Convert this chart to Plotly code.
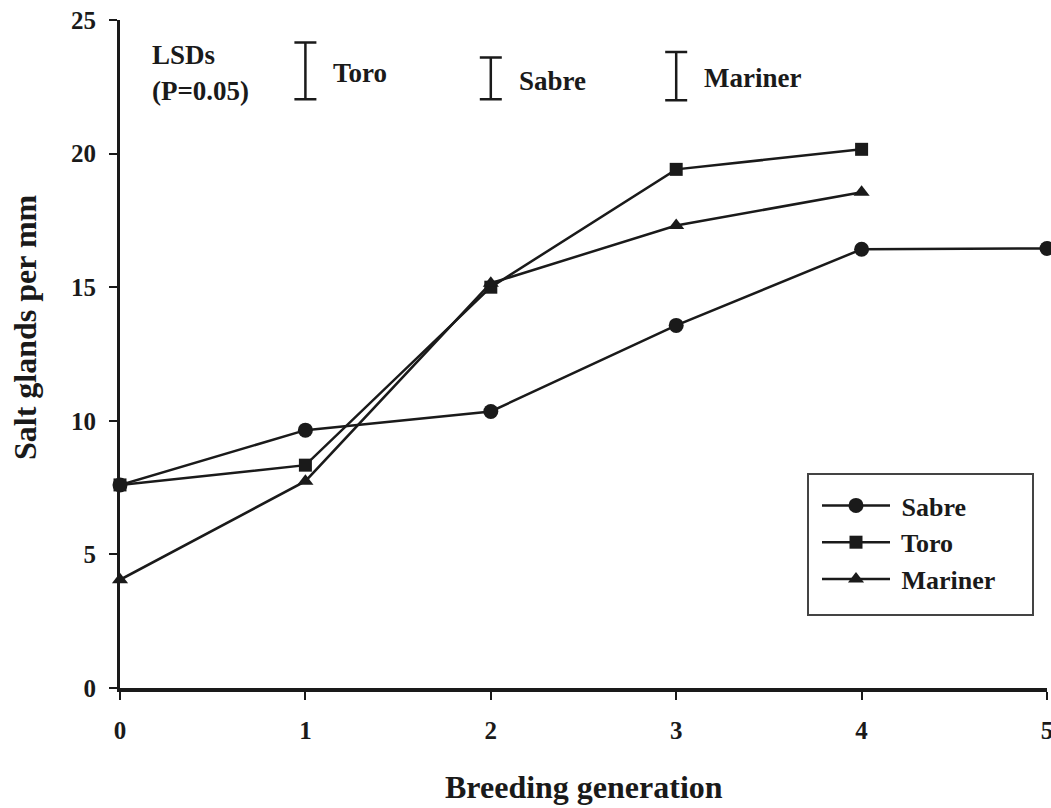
import plotly.graph_objects as go

generation = [0, 1, 2, 3, 4, 5]
sabre = [7.6, 9.65, 10.35, 13.57, 16.42, 16.45]
toro = [7.6, 8.34, 15.0, 19.41, 20.16]
mariner = [4.05, 7.74, 15.15, 17.31, 18.55]

lsd_names = ["Toro", "Sabre", "Mariner"]
lsd_x = [1, 2, 3]
lsd_base = [22.03, 22.03, 22.0]
lsd_values = [2.13, 1.57, 1.8]

y_ticks = [0, 5, 10, 15, 20, 25]
x_ticks = [0, 1, 2, 3, 4, 5]

FONT = "Liberation Serif"
INK = "#1a1a1a"

fig = go.Figure()

series = [("Sabre", sabre, "circle", 15), ("Toro", toro, "square", 13),
          ("Mariner", mariner, "triangle-up", 14)]
for name, vals, sym, size in series:
    fig.add_trace(go.Scatter(
        x=generation[:len(vals)], y=vals, name=" " + name, mode="lines+markers",
        line=dict(color=INK, width=2.5),
        marker=dict(symbol=sym, size=size, color=INK),
        cliponaxis=False,
    ))

# LSD bars
fig.add_trace(go.Scatter(
    x=lsd_x, y=lsd_base, mode="markers", showlegend=False,
    marker=dict(size=1, color="rgba(0,0,0,0)"),
    error_y=dict(type="data", symmetric=False, array=lsd_values,
                 arrayminus=[0] * len(lsd_values), color=INK,
                 thickness=2.5, width=11),
    hoverinfo="skip", cliponaxis=False,
))

ann_font = dict(family=FONT, size=27, color=INK, weight="bold")
fig.add_annotation(x=0.16, y=23.69, text="LSDs", showarrow=False,
                   xanchor="left", yanchor="middle", font=ann_font)
fig.add_annotation(x=0.16, y=22.34, text="(P=0.05)", showarrow=False,
                   xanchor="left", yanchor="middle", font=ann_font)
lsd_label_y = [23.02, 22.72, 22.83]
for nm, xv, yv in zip(lsd_names, lsd_x, lsd_label_y):
    fig.add_annotation(x=xv + 0.14, y=yv, text=nm, showarrow=False,
                       xanchor="left", yanchor="middle", font=ann_font)

# axis titles
title_font = dict(family=FONT, size=32, color=INK, weight="bold")
fig.add_annotation(xref="paper", yref="paper", x=(25 - 120) / 927, y=(688 - 327) / 668,
                   text="Salt glands per mm", textangle=-90, showarrow=False,
                   xanchor="center", yanchor="middle", font=title_font)
fig.add_annotation(xref="paper", yref="paper", x=0.5, y=(688 - 787) / 668,
                   text="Breeding generation", showarrow=False,
                   xanchor="center", yanchor="middle", font=title_font)

# legend frame
fig.add_shape(type="rect", xref="paper", yref="paper",
              x0=(808 - 120) / 927, x1=(1033 - 120) / 927,
              y0=(688 - 615) / 668, y1=(688 - 474) / 668,
              line=dict(color="#444444", width=2), fillcolor="white", layer="below")

tick_font = dict(family=FONT, size=25, color=INK, weight="bold")
fig.update_xaxes(range=[0, 5], tickvals=x_ticks, showgrid=False, zeroline=False,
                 showline=True, linecolor=INK, linewidth=4,
                 ticks="outside", ticklen=8, tickwidth=2, tickcolor=INK,
                 tickfont=tick_font, ticklabelstandoff=9, ticklabeloverflow="allow")
fig.update_yaxes(range=[0, 25], tickvals=y_ticks, showgrid=False, zeroline=False,
                 showline=True, linecolor=INK, linewidth=3,
                 ticks="outside", ticklen=8, tickwidth=2, tickcolor=INK,
                 tickfont=tick_font, ticklabelstandoff=8, ticklabeloverflow="allow")

fig.update_layout(
    width=1051, height=808,
    margin=dict(l=120, r=4, t=20, b=120, autoexpand=False),
    plot_bgcolor="white", paper_bgcolor="white",
    showlegend=True,
    legend=dict(x=(817 - 120) / 927, y=(688 - 482) / 668, xanchor="left", yanchor="top",
                borderwidth=0, bgcolor="rgba(0,0,0,0)",
                font=dict(family=FONT, size=26, color=INK, weight="bold"),
                itemwidth=68, tracegroupgap=0),
)

fig.write_html("out.html", config={"displayModeBar": False},
               post_script="document.body.style.margin='0px';")
